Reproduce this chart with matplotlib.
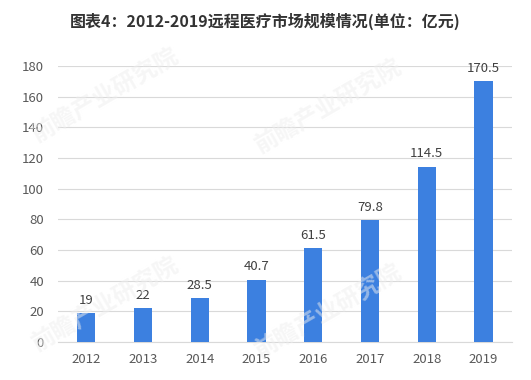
import matplotlib.pyplot as plt
import numpy as np

plt.rcParams['font.family'] = ['Noto Sans CJK SC', 'DejaVu Sans']

# Data
years = ['2012', '2013', '2014', '2015', '2016', '2017', '2018', '2019']
values = [19, 22, 28.5, 40.7, 61.5, 79.8, 114.5, 170.5]
labels = ['19', '22', '28.5', '40.7', '61.5', '79.8', '114.5', '170.5']

fig = plt.figure(figsize=(5.31, 3.80), dpi=100)
ax = fig.add_axes([0.109, 0.1, 0.855, 0.726])

x = np.arange(len(years))
bars = ax.bar(x, values, width=0.32, color='#3C80E0', zorder=3)

for xi, v, lab in zip(x, values, labels):
    ax.text(xi, v + 4, lab, ha='center', va='bottom', fontsize=9.5,
            color='#404040', zorder=4)

ax.set_xlim(-0.5, len(years) - 0.5)
ax.set_ylim(0, 180)
ax.set_yticks(np.arange(0, 181, 20))
ax.set_xticks(x)
ax.set_xticklabels(years)
ax.tick_params(axis='both', length=0, labelsize=9.5, colors='#595959')
ax.tick_params(axis='x', pad=8)
ax.tick_params(axis='y', pad=10)

ax.grid(axis='y', color='#D9D9D9', linewidth=0.8, zorder=0)
for s in ['top', 'right', 'left']:
    ax.spines[s].set_visible(False)
ax.spines['bottom'].set_color('#D9D9D9')

# faint watermark
for wx, wy in [(0.2, 0.75), (0.62, 0.72), (0.2, 0.2), (0.62, 0.18)]:
    fig.text(wx, wy, '前瞻产业研究院', fontsize=17, color='#EEEEEE',
             rotation=30, ha='center', va='center', fontweight='bold',
             alpha=0.5, zorder=1)

fig.suptitle('图表4：2012-2019远程医疗市场规模情况(单位：亿元)', x=0.5, y=0.965,
             fontsize=11.5, fontweight='bold', color='#333333')

plt.savefig('out.png', dpi=100)
